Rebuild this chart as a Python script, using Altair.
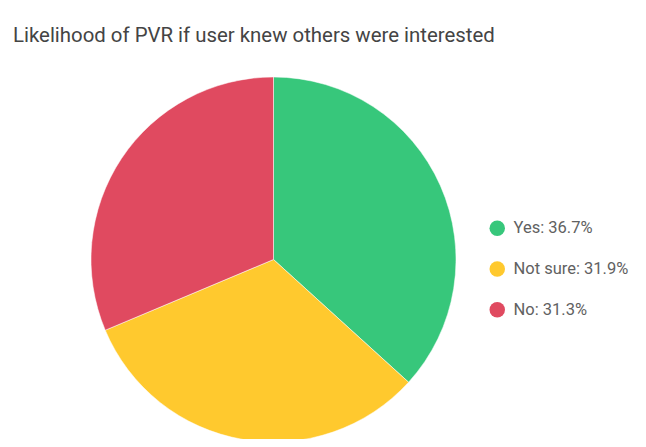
import altair as alt
import pandas as pd

categories = ["Yes", "Not sure", "No"]
values = [36.7, 31.9, 31.3]
colors = ["#37C77B", "#FFC92E", "#E04A60"]

labels = [f"{c}: {v}%" for c, v in zip(categories, values)]
df = pd.DataFrame({"label": labels, "value": values, "order": list(range(len(values)))})

chart = alt.Chart(df).mark_arc(radius=182.5, stroke="white", strokeWidth=0.5).encode(
    theta=alt.Theta("value:Q", stack=True),
    order=alt.Order("order:Q"),
    color=alt.Color(
        "label:N",
        scale=alt.Scale(domain=labels, range=colors),
        sort=labels,
        legend=alt.Legend(
            title=None,
            orient="none",
            legendX=481,
            legendY=152,
            symbolType="circle",
            symbolSize=240,
            symbolStrokeWidth=0,
            labelFontSize=16.5,
            labelFont="Roboto",
            labelColor="#616161",
            labelOffset=8,
            rowPadding=23.8,
            padding=0,
        ),
    ),
    x=alt.value(265.5),
    y=alt.value(191.5),
).properties(
    width=630,
    height=371,
    padding={"left": 0, "right": 0, "top": 60, "bottom": 0},
    autosize=alt.AutoSizeParams(type="none"),
    title=alt.TitleParams(
        "Likelihood of PVR if user knew others were interested",
        anchor="start",
        font="Roboto",
        fontSize=20.4,
        fontWeight="normal",
        color="#444444",
        dx=5,
        offset=22,
    ),
).configure_view(stroke=None)

chart.save("out.html", embed_options={"renderer": "svg", "actions": False})
